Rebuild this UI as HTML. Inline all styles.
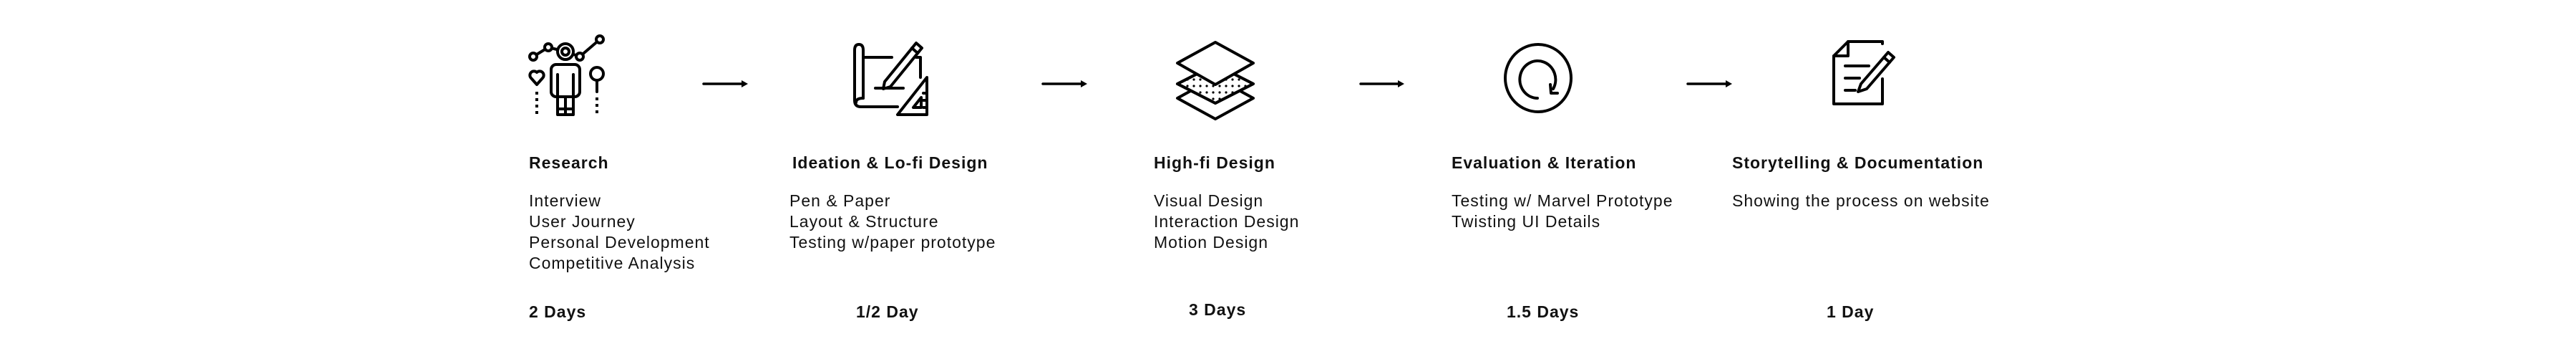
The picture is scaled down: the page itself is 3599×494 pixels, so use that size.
<!DOCTYPE html>
<html><head><meta charset="utf-8"><style>
html,body{margin:0;padding:0;background:#fff;}
body{width:3599px;height:494px;position:relative;overflow:hidden;font-family:"Liberation Sans",sans-serif;color:#111;}
.t{position:absolute;font-size:23px;letter-spacing:1px;font-weight:bold;white-space:nowrap;line-height:1;}
.b{position:absolute;font-size:23px;letter-spacing:1px;white-space:nowrap;line-height:29px;}
.d{position:absolute;font-size:23px;letter-spacing:1px;font-weight:bold;white-space:nowrap;line-height:1;}
svg{position:absolute;left:0;top:0;}
</style></head><body>
<svg width="3599" height="494" viewBox="0 0 3599 494" fill="none" stroke="#000" stroke-width="4" stroke-linejoin="round" stroke-linecap="round">
<defs><pattern id="dots" width="9" height="9" patternUnits="userSpaceOnUse"><circle cx="3" cy="3" r="1.6" fill="#000" stroke="none"/></pattern></defs>
<polyline points="745,79 766,66 782,70 793,73 810,79 838,55"/>
<circle cx="745" cy="79" r="5" fill="#fff"/><circle cx="766" cy="66" r="5" fill="#fff"/>
<circle cx="810" cy="79" r="5" fill="#fff"/><circle cx="838" cy="55" r="5" fill="#fff"/>
<circle cx="790" cy="72" r="11" fill="#fff"/><circle cx="790" cy="72" r="5"/>
<rect x="770" y="90" width="40" height="45" rx="7" fill="#fff"/>
<line x1="779" y1="104" x2="779" y2="135"/><line x1="801" y1="104" x2="801" y2="135"/>
<rect x="779" y="135" width="22" height="25"/><line x1="790" y1="135" x2="790" y2="160"/><line x1="779" y1="152" x2="801" y2="152"/>
<path d="M750,118 L742,109 A5,5 0 0 1 750,101 A5,5 0 0 1 758,109 Z"/>
<line x1="750" y1="128" x2="750" y2="160" stroke-dasharray="4,5" stroke-linecap="butt"/>
<circle cx="834" cy="103" r="9"/><line x1="834" y1="112" x2="834" y2="128"/>
<line x1="834" y1="136" x2="834" y2="160" stroke-dasharray="4,5" stroke-linecap="butt"/>
<line x1="983" y1="117" x2="1038" y2="117" stroke-width="3.5"/><polygon points="1036,112 1045,117 1036,122" fill="#000" stroke="none"/>
<path d="M1200,62 Q1194,62 1194,70 L1194,140 Q1194,149 1203,149 L1254,149"/>
<path d="M1200,62 Q1206,62 1206,70 L1206,137"/>
<path d="M1206,137 Q1196,137 1196,143"/>
<path d="M1206,80 L1246,80"/><path d="M1286,108 L1286,80 L1280,80"/>
<path d="M1236,114 L1280,60 L1288,67 L1244,121 L1234,124 Z" fill="#fff"/><line x1="1274" y1="67" x2="1282" y2="74"/>
<line x1="1223" y1="123" x2="1262" y2="123"/>
<polygon points="1254,160 1295,160 1295,108" fill="#fff"/>
<polygon points="1276,150 1287,150 1287,136"/>
<line x1="1290" y1="130" x2="1295" y2="130"/><line x1="1290" y1="140" x2="1295" y2="140"/><line x1="1290" y1="150" x2="1295" y2="150"/>
<line x1="1457" y1="117" x2="1512" y2="117" stroke-width="3.5"/><polygon points="1510,112 1519,117 1510,122" fill="#000" stroke="none"/>
<polygon points="1698,108 1751,137 1698,166 1645,137" fill="#fff"/>
<polygon points="1698,90 1751,117 1698,144 1645,117" fill="#fff"/>
<polygon points="1698,90 1751,117 1698,144 1645,117" fill="url(#dots)"/>
<polygon points="1698,59 1751,88 1698,118 1645,88" fill="#fff"/>
<line x1="1901" y1="117" x2="1955" y2="117" stroke-width="3.5"/><polygon points="1953,112 1962,117 1953,122" fill="#000" stroke="none"/>
<ellipse cx="2149" cy="109" rx="46" ry="47"/>
<path d="M2148,137 A25,26 0 1 1 2170,124"/>
<polyline points="2166,118 2167,130 2176,130" />
<line x1="2358" y1="117" x2="2413" y2="117" stroke-width="3.5"/><polygon points="2411,112 2420,117 2411,122" fill="#000" stroke="none"/>
<path d="M2630,61 L2630,58 L2582,58 L2562,78 L2562,145 L2630,145 L2630,110"/>
<path d="M2582,58 L2582,78 L2562,78"/>
<line x1="2578" y1="92" x2="2611" y2="92"/><line x1="2578" y1="109" x2="2598" y2="109"/><line x1="2578" y1="126" x2="2592" y2="126"/>
<path d="M2600,117 L2638,73 L2646,80 L2608,124 L2596,128 Z" fill="#fff"/><line x1="2632" y1="80" x2="2640" y2="87"/>
</svg>

<div class="t" style="left:739px;top:216px">Research</div>
<div class="b" style="left:739px;top:266px">Interview<br>User Journey<br>Personal Development<br>Competitive Analysis</div>
<div class="d" style="left:739px;top:424px">2 Days</div>

<div class="t" style="left:1107px;top:216px">Ideation &amp; Lo-fi Design</div>
<div class="b" style="left:1103px;top:266px">Pen &amp; Paper<br>Layout &amp; Structure<br>Testing w/paper prototype</div>
<div class="d" style="left:1196px;top:424px">1/2 Day</div>

<div class="t" style="left:1612px;top:216px">High-fi Design</div>
<div class="b" style="left:1612px;top:266px">Visual Design<br>Interaction Design<br>Motion Design</div>
<div class="d" style="left:1661px;top:421px">3 Days</div>

<div class="t" style="left:2028px;top:216px">Evaluation &amp; Iteration</div>
<div class="b" style="left:2028px;top:266px">Testing w/ Marvel Prototype<br>Twisting UI Details</div>
<div class="d" style="left:2105px;top:424px">1.5 Days</div>

<div class="t" style="left:2420px;top:216px">Storytelling &amp; Documentation</div>
<div class="b" style="left:2420px;top:266px">Showing the process on website</div>
<div class="d" style="left:2552px;top:424px">1 Day</div>
</body></html>
